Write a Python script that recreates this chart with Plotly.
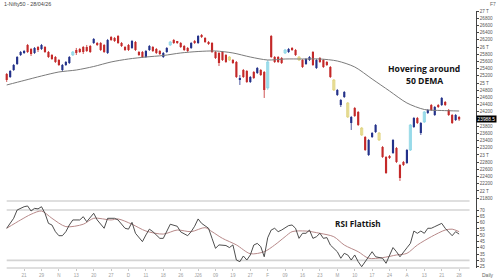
import plotly.graph_objects as go

# ---------------- data ----------------
opens = [
    25250, 25167, 25361, 25528, 25778, 25848, 26056, 25945, 25834, 26000,
    25945, 26000, 25861, 25778, 25722, 25639, 25361, 25500, 25556, 25778,
    25917, 25945, 26000, 26000, 26028, 26111, 26111, 26111, 26056, 25834,
    26278, 26250, 26306, 26111, 26000, 26056, 25973, 26139, 25861, 25861,
    25722, 25917, 26000, 25945, 25889, 25722, 25861, 26056, 26195, 26139,
    26111, 26028, 25973, 25973, 26167, 26111, 26334, 26250, 26139, 26111,
    25861, 25834, 25861, 25778, 25722, 25639, 25584, 25084, 25361, 25334,
    25028, 25306, 25278, 25361, 25306, 24861, 26306, 25722, 25722, 25695,
    25834, 25861, 25973, 25917, 25722, 25639, 25528, 25639, 25861, 25417,
    25695, 25639, 25584, 25445, 25084, 24667, 24389, 24611, 24445, 23889,
    24306, 24195, 23750, 23500, 23000, 23500, 23639, 23611, 23222, 22945,
    22950, 23056, 23195, 22722, 22806, 22778, 23139, 23778, 24028, 23611,
    23917, 24167, 24389, 24111, 24389, 24389, 24472, 24250, 24111, 23972,
    24056]
highs = [
    25278, 25361, 25528, 25750, 25889, 25917, 26084, 25973, 26000, 26028,
    26084, 26028, 25889, 25806, 25750, 25667, 25528, 25611, 25750, 25889,
    25973, 25973, 26028, 26056, 26056, 26250, 26139, 26139, 26084, 26223,
    26306, 26278, 26334, 26139, 26028, 26084, 26195, 26167, 25889, 25889,
    25917, 26056, 26028, 25973, 25917, 25861, 26000, 26167, 26223, 26167,
    26139, 26056, 26000, 26139, 26195, 26334, 26361, 26278, 26167, 26139,
    25889, 25861, 25889, 25806, 25750, 25667, 25611, 25222, 25389, 25361,
    25195, 25334, 25445, 25389, 25334, 25639, 26334, 25750, 25750, 25722,
    25945, 25973, 26000, 25945, 25750, 25667, 25695, 25750, 25889, 25667,
    25722, 25667, 25611, 25472, 25111, 24834, 24556, 24778, 24472, 24084,
    24334, 24222, 23778, 23528, 23445, 23639, 23861, 23639, 23250, 22972,
    23000, 23445, 23222, 22750, 22834, 23167, 23861, 24056, 24056, 23917,
    24222, 24278, 24417, 24361, 24417, 24611, 24500, 24278, 24139, 24139,
    24084]
lows = [
    25028, 25139, 25334, 25500, 25750, 25806, 25834, 25750, 25806, 25861,
    25917, 25834, 25695, 25639, 25556, 25472, 25306, 25472, 25528, 25750,
    25778, 25834, 25806, 25861, 25834, 26084, 26028, 25889, 25834, 25806,
    26167, 26139, 26084, 26000, 25889, 25889, 25945, 25889, 25750, 25695,
    25695, 25889, 25861, 25806, 25778, 25695, 25834, 26028, 26084, 26084,
    25973, 25889, 25861, 25945, 26084, 26084, 26250, 26111, 26056, 25834,
    25667, 25472, 25611, 25556, 25611, 25528, 25139, 24945, 25139, 25000,
    25000, 25111, 25250, 25195, 24584, 24806, 25695, 25556, 25556, 25528,
    25806, 25834, 25889, 25750, 25611, 25417, 25500, 25611, 25472, 25389,
    25556, 25417, 25472, 25139, 24778, 24639, 24334, 24584, 24028, 23695,
    24056, 23806, 23528, 23111, 22972, 23472, 23611, 23389, 22917, 22472,
    22889, 23028, 22778, 22278, 22695, 22750, 23111, 23750, 23861, 23556,
    23889, 24139, 24222, 24084, 24306, 24361, 24361, 24084, 23861, 23945,
    23945]
closes = [
    25084, 25334, 25500, 25722, 25861, 25889, 25861, 25806, 25973, 25917,
    26056, 25861, 25722, 25667, 25584, 25500, 25500, 25584, 25722, 25861,
    25834, 25861, 25861, 25889, 25861, 26223, 26056, 25917, 25861, 26195,
    26195, 26167, 26111, 26028, 25917, 25917, 26167, 25917, 25778, 25722,
    25889, 26028, 25889, 25834, 25806, 25834, 25973, 26139, 26111, 26111,
    26000, 25917, 25889, 26111, 26111, 26306, 26278, 26139, 26084, 25861,
    25695, 25556, 25639, 25584, 25639, 25556, 25167, 25139, 25167, 25028,
    25167, 25139, 25417, 25222, 24806, 25584, 25722, 25584, 25584, 25556,
    25917, 25945, 25917, 25778, 25639, 25445, 25667, 25722, 25500, 25639,
    25584, 25445, 25500, 25167, 24806, 24806, 24528, 24750, 24056, 24056,
    24084, 23834, 23556, 23139, 23417, 23611, 23834, 23417, 22945, 22500,
    22940, 23417, 22806, 22361, 22722, 23139, 23834, 24028, 23889, 23889,
    24195, 24250, 24250, 24334, 24334, 24584, 24389, 24111, 23889, 24111,
    23988.5]
highlighted = [19, 47, 64, 75, 80, 84, 94, 98, 102, 107, 116, 120]

dema_idx = [0, 5, 10, 15, 20, 25, 30, 35, 40, 45, 50, 55, 60, 65, 70, 75, 80,
            85, 90, 95, 100, 105, 110, 115, 120, 125, 130]
dema_val = [24945, 25070, 25195, 25306, 25361, 25458, 25584, 25667, 25722,
            25764, 25834, 25875, 25889, 25834, 25722, 25639, 25667, 25667,
            25667, 25611, 25445, 25111, 24778, 24445, 24264, 24236, 24222]

rsi_idx = [0, 2, 3, 5, 6, 7, 8, 9, 10, 11, 12, 13, 14, 15, 16, 17, 18, 19, 21, 22,
           23, 25, 26, 28, 29, 31, 32, 34, 35, 36, 37, 39, 40, 41, 42, 44, 45, 46, 47, 49,
           50, 52, 53, 54, 55, 56, 58, 59, 60, 61, 63, 64, 65, 66, 67, 68, 69, 70, 71, 72,
           73, 74, 75, 76, 77, 78, 79, 81, 82, 83, 84, 85, 86, 87, 88, 89, 90, 91, 92, 93,
           95, 96, 97, 98, 99, 100, 101, 102, 103, 104, 105, 106, 108, 109, 110, 111, 112,
           113, 115, 116, 117, 118, 119, 120, 121, 122, 123, 125, 126, 127, 128, 129, 130]
rsi_val = [55.5, 63.4, 70, 72.6, 73.2, 69.2, 71.3, 70.9, 72.6, 67.4,
           59.4, 58.1, 52.8, 49.6, 49.6, 52.8, 58.1, 62.1, 62.1, 64.7,
           60.7, 67.4, 62.1, 55.5, 63.4, 63.4, 62.1, 55.5, 54.8, 60.2,
           51.5, 44.9, 50.2, 54.8, 52.8, 47.5, 47.5, 52.8, 58.7, 57.1,
           52.6, 49.6, 52.8, 57.1, 62.9, 59.4, 55.5, 47.5, 39.6, 42.3,
           41.8, 40.2, 42.3, 30.3, 29, 33.5, 30.3, 34.3, 42.2, 43.5,
           40.9, 32.9, 48, 54.1, 55.5, 52.8, 54.1, 57.6, 58.1, 55.5,
           47.5, 51.5, 51.5, 54.1, 47.5, 48.8, 51.5, 47.5, 48.1, 42.2,
           36.9, 31.7, 35.6, 34.3, 30.3, 34.3, 29, 25, 29, 32.9,
           36.9, 32.9, 31.7, 27.7, 34.3, 40.2, 36.9, 32.9, 40, 43.5,
           53.3, 51.5, 53.3, 51.5, 55.5, 55.5, 56.8, 59.4, 55.5, 52.6,
           49.6, 52.8, 50.9]
sig_idx = [0, 4, 7, 10, 13, 17, 22, 25, 30, 32, 36, 40, 45, 49, 53, 57, 59, 62, 66,
           70, 74, 77, 80, 82, 86, 90, 94, 97, 101, 104, 108, 112, 115, 118, 122, 126,
           128, 130]
sig_val = [55.5, 62.1, 66.6, 69.2, 63.4, 56.8, 58.7, 63.4, 62.1, 62.9,
           58.7, 53.3, 50.9, 54.1, 52.8, 56, 52.8, 47.5, 42.3, 35.3,
           36.9, 42.2, 48.8, 52.8, 53.3, 51.5, 48.8, 42.2, 36.9, 31.7,
           32.2, 34.3, 35.6, 42.2, 48.8, 54.1, 54.8, 52.8]

x_tick_idx = list(range(5, 131, 5))
x_tick_text = ["21", "29", "N", "13", "20", "27", "D", "11", "18", "26", "J26", "09",
               "19", "27", "F", "09", "16", "23", "M", "10", "17", "24", "A", "13",
               "21", "28"]
# 24000 sits behind the last-price box in the reference, so it is not labelled
price_ticks = [v for v in range(21800, 27001, 200) if v != 24000]
price_tick_text = [f"{v // 1000} T" if v % 1000 == 0 else str(v) for v in price_ticks]
rsi_ticks = list(range(25, 71, 5))

# ---------------- figure ----------------
SPLIT = 67 / 257
fig = go.Figure()

groups = {
    "up": dict(color="#24328a", line="#24328a"),
    "down": dict(color="#c42a2a", line="#c42a2a"),
    "hl_up": dict(color="#c4edf4", line="#86d3e4"),
    "hl_down": dict(color="#f4edb8", line="#ddd07a"),
}
members = {k: [] for k in groups}
for i in range(len(closes)):
    up = closes[i] >= opens[i]
    if i in highlighted:
        members["hl_up" if up else "hl_down"].append(i)
    else:
        members["up" if up else "down"].append(i)

for k, idxs in members.items():
    wx, wy = [], []
    for i in idxs:
        wx += [i, i, None]
        wy += [lows[i], highs[i], None]
    fig.add_trace(go.Scatter(x=wx, y=wy, mode="lines",
                             line=dict(color=groups[k]["line"], width=0.8),
                             hoverinfo="skip", xaxis="x", yaxis="y"))
for k, idxs in members.items():
    fig.add_trace(go.Bar(
        x=idxs,
        base=[min(opens[i], closes[i]) for i in idxs],
        y=[max(abs(closes[i] - opens[i]), 12) for i in idxs],
        width=0.62,
        marker=dict(color=groups[k]["color"],
                    line=dict(color=groups[k]["line"],
                              width=0.8 if k.startswith("hl") else 0)),
        xaxis="x", yaxis="y"))

fig.add_trace(go.Scatter(x=dema_idx, y=dema_val, mode="lines",
                         line=dict(color="#7b7b7b", width=1, shape="spline", smoothing=0.8),
                         xaxis="x", yaxis="y"))

fig.add_trace(go.Scatter(x=sig_idx, y=sig_val, mode="lines",
                         line=dict(color="#b88a8a", width=1, shape="spline", smoothing=0.8),
                         xaxis="x", yaxis="y2"))
fig.add_trace(go.Scatter(x=rsi_idx, y=rsi_val, mode="lines",
                         line=dict(color="#3a3a3a", width=0.9),
                         xaxis="x", yaxis="y2"))

grid = "#d4d4d4"
shapes = []
for lvl in (70, 30):
    shapes.append(dict(type="line", xref="x", yref="y2", x0=0, x1=133, y0=lvl, y1=lvl,
                       line=dict(color=grid, width=1.6), layer="below"))
for d in (0, 1):
    shapes.append(dict(type="line", xref="x", yref="y2 domain", x0=0, x1=133, y0=d, y1=d,
                       line=dict(color=grid, width=1.6), layer="below"))

small = dict(family="Liberation Sans", size=4.6, color="#555")
fig.update_layout(
    width=500, height=280,
    margin=dict(l=0, r=24, t=11, b=12),
    paper_bgcolor="white", plot_bgcolor="white",
    showlegend=False, barmode="overlay",
    shapes=shapes,
    xaxis=dict(domain=[0, 1], range=[-1.925, 134.85], anchor="y2",
               tickmode="array", tickvals=x_tick_idx, ticktext=x_tick_text,
               tickfont=dict(family="Liberation Sans", size=4.6, color="#a0a0a0"),
               ticks="outside", ticklen=2, tickcolor="#c8c8c8",
               showgrid=False, zeroline=False, showline=False),
    yaxis=dict(domain=[SPLIT, 1], range=[21722, 27000], side="right", anchor="x",
               tickmode="array", tickvals=price_ticks, ticktext=price_tick_text,
               tickfont=small, ticks="outside", ticklen=2, tickcolor="#444",
               showline=True, linecolor="#444", linewidth=0.8,
               showgrid=False, zeroline=False),
    yaxis2=dict(domain=[0, SPLIT], range=[23.97, 77.14], side="right", anchor="x",
                tickmode="array", tickvals=rsi_ticks,
                tickfont=small, ticks="outside", ticklen=2, tickcolor="#444",
                showline=True, linecolor="#444", linewidth=0.8,
                showgrid=False, zeroline=False),
)

def px_x(p):
    return p / 476

def px_y(p):
    return (268 - p) / 257

callout = dict(family="Open Sans", size=8.6, color="#141414", weight=700)
fig.add_annotation(text="1-Nifty50 - 28/04/26", xref="paper", yref="paper",
                   x=px_x(2), y=px_y(4), xanchor="left", yanchor="middle",
                   showarrow=False, font=dict(family="Liberation Sans", size=5.4, color="#444"))
fig.add_annotation(text="F7", xref="paper", yref="paper", x=px_x(493), y=px_y(4),
                   xanchor="center", yanchor="middle", showarrow=False,
                   font=dict(family="Liberation Sans", size=5, color="#666"))
fig.add_annotation(text="Daily", xref="paper", yref="paper", x=px_x(480), y=px_y(275),
                   xanchor="left", yanchor="middle", showarrow=False,
                   font=dict(family="Liberation Sans", size=5, color="#666"))
fig.add_annotation(text="Hovering around", xref="paper", yref="paper",
                   x=px_x(424), y=px_y(69), xanchor="center", yanchor="middle",
                   showarrow=False, font=callout)
fig.add_annotation(text="50 DEMA", xref="paper", yref="paper",
                   x=px_x(424), y=px_y(81), xanchor="center", yanchor="middle",
                   showarrow=False, font=callout)
fig.add_annotation(text="RSI Flattish", xref="paper", yref="paper",
                   x=px_x(358), y=px_y(223), xanchor="center", yanchor="middle",
                   showarrow=False, font=dict(family="Open Sans", size=8.2,
                                              color="#141414", weight=700))
fig.add_annotation(text=f"{closes[-1]:.1f}", xref="paper", yref="y",
                   x=1, y=closes[-1], xanchor="left", yanchor="middle", showarrow=False,
                   bgcolor="black", borderpad=0.6,
                   font=dict(family="Liberation Sans", size=4.8, color="white"))

fig.write_html("out.html")
